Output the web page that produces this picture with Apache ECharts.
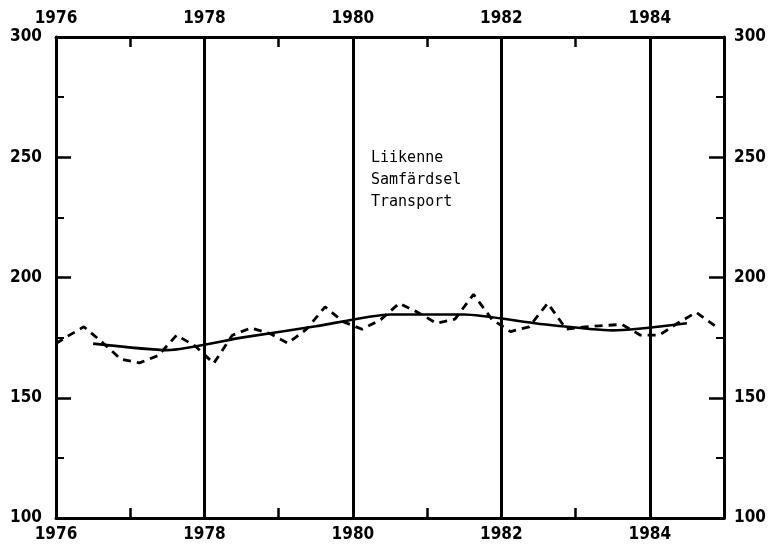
<!DOCTYPE html>
<html>
<head>
<meta charset="utf-8">
<script src="https://cdn.jsdelivr.net/npm/echarts@6/dist/echarts.min.js"></script>
<style>
html, body { margin: 0; padding: 0; background: #fff; }
#chart-view { width: 771px; height: 545px; }
</style>
</head>
<body>
<div id="chart-view"></div>
<script>
  // quarterly series (dashed), decimal years
  const quarterX = [
    1976.0,
    1976.125, 1976.375, 1976.625, 1976.875,
    1977.125, 1977.375, 1977.625, 1977.875,
    1978.125, 1978.375, 1978.625, 1978.875,
    1979.125, 1979.375, 1979.625, 1979.875,
    1980.125, 1980.375, 1980.625, 1980.875,
    1981.125, 1981.375, 1981.625, 1981.875,
    1982.125, 1982.375, 1982.625, 1982.875,
    1983.125, 1983.375, 1983.625, 1983.875,
    1984.125, 1984.375, 1984.625, 1984.875
  ]
  const quarterValues = [
    172.5,
    175, 179.5, 173, 166,
    164.5, 167.5, 176, 171.5,
    164.3, 176, 179, 176.8,
    172.7, 178.5, 187.8, 181.5,
    178.5, 182.5, 189.3, 185.5,
    181, 182.7, 193, 182.5,
    177.5, 179.5, 189.3, 178.5,
    179.5, 180, 180.5, 176,
    176, 181, 185.5, 180
  ]
  // trend (solid), mid-year points
  const trendX = [1976.5, 1977.5, 1978.5, 1979.5, 1980.5, 1981.5, 1982.5, 1983.5, 1984.5]
  const trendValues = [172.5, 169.8, 175, 179.7, 184.6, 184.6, 180.8, 178, 181]
  // heavy vertical lines
  const yearLines = [1978, 1980, 1982, 1984]
  const labelText = ['Liikenne', 'Samfärdsel', 'Transport']

  let chartLine = echarts.init(document.getElementById('chart-view'))

  let labelFont = {
    color: '#000',
    fontFamily: '"DejaVu Sans Condensed", "DejaVu Sans", sans-serif',
    fontWeight: 'bold',
    fontSize: 17
  }

  let xAxisBase = (pos, margin) => ({
    type: 'value',
    position: pos,
    min: 1976,
    max: 1985,
    interval: 1,
    axisLine: { show: true, lineStyle: { color: '#000', width: 3 } },
    axisTick: { show: true, inside: true, length: 10, lineStyle: { color: '#000', width: 2.5 } },
    axisLabel: {
      ...labelFont,
      margin: margin,
      formatter: v => (v % 2 === 0 && v < 1985) ? String(v) : ''
    },
    splitLine: { show: false }
  })

  let yAxisBase = (pos, margin) => ({
    type: 'value',
    position: pos,
    min: 100,
    max: 300,
    interval: 50,
    axisLine: { show: true, lineStyle: { color: '#000', width: 3 } },
    axisTick: { show: true, inside: true, length: 15, lineStyle: { color: '#000', width: 2.5 } },
    minorTick: { show: true, splitNumber: 2, length: 8, lineStyle: { color: '#000', width: 2 } },
    axisLabel: { ...labelFont, margin: margin },
    splitLine: { show: false }
  })

  let option = {
    animation: false,
    backgroundColor: '#fff',
    grid: { left: 56, right: 47, top: 37, bottom: 27 },
    xAxis: [xAxisBase('bottom', 8), xAxisBase('top', 10)],
    yAxis: [yAxisBase('left', 14), yAxisBase('right', 10)],
    graphic: [{
      type: 'text',
      left: 371,
      top: 147,
      style: {
        text: labelText.join('\n'),
        font: '15px "DejaVu Sans Mono", monospace',
        lineHeight: 22,
        fill: '#000'
      }
    }],
    series: [
      {
        name: 'quarterly',
        type: 'line',
        data: quarterX.map((x, i) => [x, quarterValues[i]]),
        symbol: 'none',
        lineStyle: { color: '#000', width: 2.8, type: [8, 6] }
      },
      {
        name: 'trend',
        type: 'line',
        data: trendX.map((x, i) => [x, trendValues[i]]),
        symbol: 'none',
        smooth: 0.2,
        lineStyle: { color: '#000', width: 2.6 },
        markLine: {
          silent: true,
          symbol: ['none', 'none'],
          label: { show: false },
          lineStyle: { color: '#000', width: 3, type: 'solid' },
          data: yearLines.map(y => ({ xAxis: y }))
        }
      }
    ]
  }

  chartLine.setOption(option)
</script>
</body>
</html>
